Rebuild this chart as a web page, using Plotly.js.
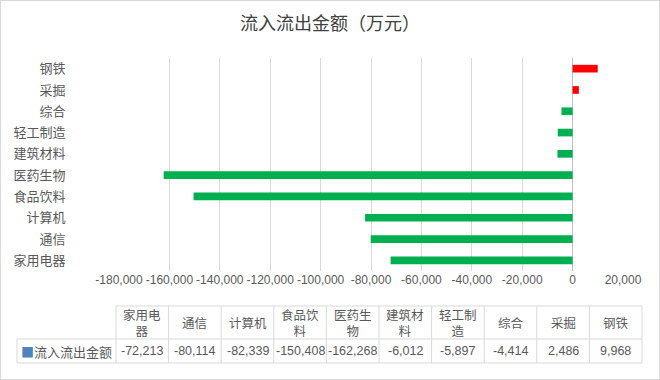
<!DOCTYPE html>
<html>
<head>
<meta charset="utf-8">
<script src="https://cdn.plot.ly/plotly-3.0.1.min.js"></script>
<style>
html,body{margin:0;padding:0;background:#fff;}
#chart{width:658px;height:378px;border:1px solid #d9d9d9;}
</style>
</head>
<body>
<div id="chart"></div>
<script>
const categories = ['家用电器','通信','计算机','食品饮料','医药生物','建筑材料','轻工制造','综合','采掘','钢铁'];
const values = [-72213, -80114, -82339, -150408, -162268, -6012, -5897, -4414, 2486, 9968];
const seriesName = '流入流出金额';
const xTicks = [-180000,-160000,-140000,-120000,-100000,-80000,-60000,-40000,-20000,0,20000];

const fmt = v => (v < 0 ? '-' : '') + Math.abs(v).toLocaleString('en-US');
const cjk = '"Noto Sans CJK SC", "Noto Sans", sans-serif';
const num = '"Liberation Sans", ' + cjk;
const txt = '#595959';
const lineC = '#d9d9d9';

const W = 658, H = 378;
const m = {l: 16, r: 16, t: 57, b: 15};
const pw = W - m.l - m.r, ph = H - m.t - m.b;
const px = x => (x - m.l) / pw;
const py = y => (H - m.b - y) / ph;

const bar = {
  type: 'bar', orientation: 'h',
  y: categories, x: values,
  marker: {color: values.map(v => v < 0 ? '#00b050' : '#ff0000')},
  hoverinfo: 'x+y', showlegend: false
};

// data table drawn with shapes + annotations (layout geometry in pixels)
const T = {left: 16, first: 115, colW: 52.6, top: 305, mid: 338, bot: 362};
const colX = i => T.first + i * T.colW;
const right = colX(categories.length);
const shapes = [];
const ln = (x0, y0, x1, y1) => shapes.push({type: 'line', xref: 'paper', yref: 'paper',
  x0: px(x0), y0: py(y0), x1: px(x1), y1: py(y1), line: {color: lineC, width: 1}});
ln(T.first, T.top, right, T.top);
ln(T.left, T.mid, right, T.mid);
ln(T.left, T.bot, right, T.bot);
ln(T.left, T.mid, T.left, T.bot);
for (let i = 0; i <= categories.length; i++) ln(colX(i), T.top, colX(i), T.bot);

const annotations = [];
categories.forEach((c, i) => {
  const label = c.length > 3 ? c.slice(0, 3) + '<br>' + c.slice(3) : c;
  annotations.push({xref: 'paper', yref: 'paper', x: px(colX(i) + T.colW / 2), y: py((T.top + T.mid) / 2),
    text: label, showarrow: false, xanchor: 'center', yanchor: 'middle',
    font: {family: cjk, size: 12.5, color: txt}});
  annotations.push({xref: 'paper', yref: 'paper', x: px(colX(i) + T.colW / 2), y: py((T.mid + T.bot) / 2),
    text: fmt(values[i]), showarrow: false, xanchor: 'center', yanchor: 'middle',
    font: {family: num, size: 12.5, color: txt}});
});
annotations.push({xref: 'paper', yref: 'paper', x: px((T.left + T.first) / 2), y: py((T.mid + T.bot) / 2),
  text: '<span style="color:#4f81bd">■</span>' + seriesName, showarrow: false, xanchor: 'center', yanchor: 'middle',
  font: {family: cjk, size: 13, color: txt}});

const layout = {
  width: W, height: H,
  margin: m,
  paper_bgcolor: '#ffffff', plot_bgcolor: '#ffffff',
  title: {text: '流入流出金额（万元）', x: 0.5, xanchor: 'center', y: 1 - 23/H, yanchor: 'middle',
          font: {family: cjk, size: 18, color: '#404040'}},
  bargap: 0.64,
  xaxis: {
    domain: [px(118), px(622)],
    range: [-180000, 20000],
    tickvals: xTicks, ticktext: xTicks.map(fmt),
    showgrid: true, gridcolor: lineC, gridwidth: 1,
    zeroline: true, zerolinecolor: '#bfbfbf', zerolinewidth: 1,
    showline: false, ticks: '',
    tickfont: {family: num, size: 12, color: txt},
    fixedrange: true
  },
  yaxis: {
    domain: [py(270), py(57)],
    type: 'category',
    showgrid: false, zeroline: false, showline: false,
    ticks: 'outside', ticklen: 50, tickcolor: 'rgba(0,0,0,0)',
    tickfont: {family: cjk, size: 13, color: txt},
    fixedrange: true
  },
  shapes: shapes,
  annotations: annotations
};

Plotly.newPlot('chart', [bar], layout, {displayModeBar: false, staticPlot: true});
</script>
</body>
</html>
